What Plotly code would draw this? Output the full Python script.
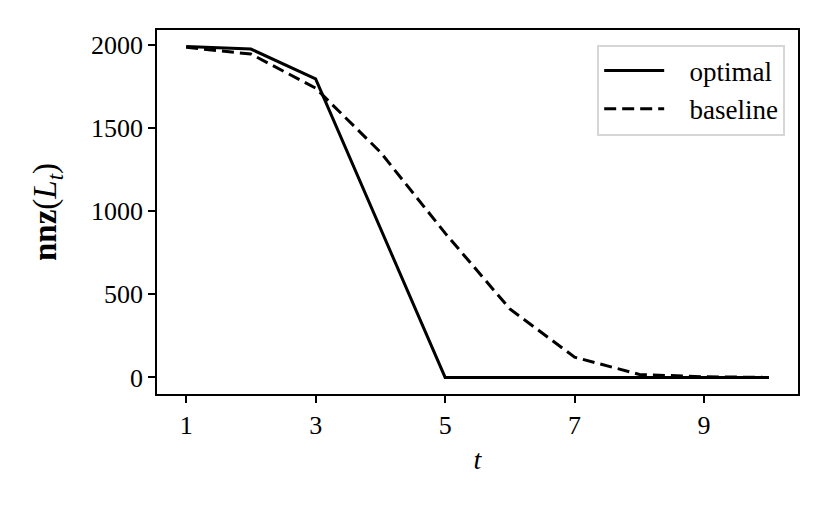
import plotly.graph_objects as go

t = [1, 2, 3, 4, 5, 6, 7, 8, 9, 10]
optimal = [1990, 1975, 1795, 898, 0, 0, 0, 0, 0, 0]
baseline = [1985, 1945, 1740, 1355, 868, 412, 122, 18, 4, 0]
series_names = ["optimal", "baseline"]

font_family = "Liberation Serif, DejaVu Serif, serif"
pad = "\u00a0\u00a0\u00a0"  # gap between legend line and text

fig = go.Figure()
fig.add_trace(go.Scatter(x=t, y=optimal, mode="lines", name=pad + series_names[0],
                         line=dict(color="black", width=3)))
fig.add_trace(go.Scatter(x=t, y=baseline, mode="lines", name=pad + series_names[1],
                         line=dict(color="black", width=3, dash="12px,6px")))

axis_style = dict(showline=True, linecolor="black", linewidth=1.5, mirror=True,
                  ticks="outside", ticklen=7, tickwidth=1.5, tickcolor="black",
                  showgrid=False, zeroline=False, automargin=False,
                  tickfont=dict(family=font_family, size=26, color="black"))

fig.update_xaxes(range=[0.55, 10.45], tickvals=[1, 3, 5, 7, 9],
                 title=dict(text="<i>t</i>", font=dict(family=font_family, size=28, color="black"),
                            standoff=10),
                 **axis_style)
fig.update_yaxes(range=[-99.5, 2089.5], tickvals=[0, 500, 1000, 1500, 2000],
                 title=dict(text="<b>nnz</b>(<i>L</i><sub><i>t</i></sub>)",
                            font=dict(family=font_family, size=33, color="black"),
                            standoff=24),
                 **axis_style)

# the page puts the figure 8px in from the top-left corner
fig.update_layout(
    width=830, height=513,
    margin=dict(l=149, r=40, t=22, b=127),
    plot_bgcolor="white", paper_bgcolor="white",
    font=dict(family=font_family, color="black"),
    legend=dict(x=0.98, y=0.96, xanchor="right", yanchor="top",
                bgcolor="white", bordercolor="#d6d6d6", borderwidth=2,
                font=dict(family=font_family, size=27, color="black"),
                itemwidth=60, tracegroupgap=0),
)

fig.write_html("out.html")
